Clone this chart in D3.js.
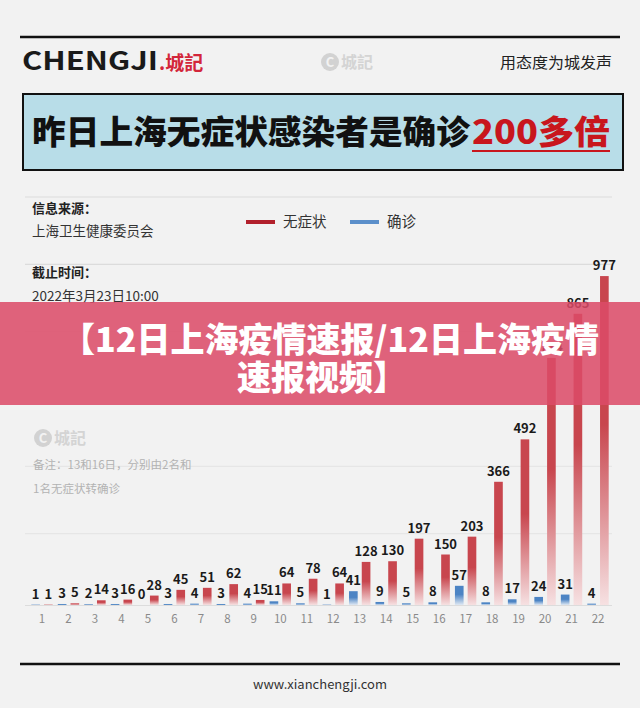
<!DOCTYPE html>
<html>
<head>
<meta charset="utf-8">
<script src="https://cdn.jsdelivr.net/npm/d3@7"></script>
<style>
  body { margin: 0; background: #f2f2f2; }
  text { font-family: "Noto Sans CJK SC", "Noto Sans", sans-serif; }
</style>
</head>
<body>
<script>
// 3月1日 - 3月22日
var days = d3.range(1, 23);
var confirmed = [1, 3, 2, 3, 0, 3, 4, 3, 4, 11, 5, 1, 41, 9, 5, 8, 57, 8, 17, 24, 31, 4];
var asymptomatic = [1, 5, 14, 16, 28, 45, 51, 62, 15, 64, 78, 64, 128, 130, 197, 150, 203, 366, 492, 734, 865, 977];
var yTicks = [200, 400, 600, 800, 1000, 1200];

var width = 640,
    height = 708;

var svg = d3.select("body").append("svg")
    .attr("width", width)
    .attr("height", height);

svg.append("rect")
    .attr("width", width)
    .attr("height", height)
    .attr("fill", "#f2f2f2");

// gradients for bars
var defs = svg.append("defs");
function grad(id, c0, c1) {
  var g = defs.append("linearGradient")
      .attr("id", id)
      .attr("x1", 0).attr("y1", 0).attr("x2", 0).attr("y2", 1);
  g.append("stop").attr("offset", "0%").attr("stop-color", c0);
  g.append("stop").attr("offset", "45%").attr("stop-color", c0);
  g.append("stop").attr("offset", "100%").attr("stop-color", c1);
}
grad("redGrad", "#c8464e", "#f6e1e2");
grad("blueGrad", "#4c84c4", "#dfe8f3");

// ---- header ----
svg.append("line")
    .attr("x1", 20).attr("x2", 620).attr("y1", 37).attr("y2", 37)
    .attr("stroke", "#111").attr("stroke-width", 2.5);

svg.append("text")
    .attr("x", 22).attr("y", 70)
    .attr("font-family", "Lato, sans-serif")
    .attr("font-weight", 700)
    .attr("font-size", 25)
    .attr("fill", "#1a1a1a")
    .attr("textLength", 136)
    .attr("lengthAdjust", "spacingAndGlyphs")
    .text("CHENGJI");
svg.append("text")
    .attr("x", 159).attr("y", 70)
    .attr("font-weight", 700)
    .attr("font-size", 19)
    .attr("fill", "#d3263a")
    .text(".城記");

// watermark
function watermark(cx, cy) {
  svg.append("circle").attr("cx", cx).attr("cy", cy).attr("r", 9).attr("fill", "#d2d2d2");
  svg.append("text").attr("x", cx).attr("y", cy + 4.5)
      .attr("text-anchor", "middle").attr("font-size", 13).attr("font-weight", 700)
      .attr("fill", "#f2f2f2").text("C");
  svg.append("text").attr("x", cx + 11).attr("y", cy + 6)
      .attr("font-size", 16).attr("font-weight", 700)
      .attr("fill", "#d4d4d4").text("城記");
}
watermark(330, 62);

svg.append("text")
    .attr("x", 500).attr("y", 68)
    .attr("font-size", 15)
    .attr("fill", "#222")
    .attr("textLength", 112)
    .attr("lengthAdjust", "spacingAndGlyphs")
    .text("用态度为城发声");

// title box
svg.append("rect")
    .attr("x", 23).attr("y", 94).attr("width", 600).attr("height", 76)
    .attr("fill", "#b8dde8")
    .attr("stroke", "#111").attr("stroke-width", 2);

svg.append("text")
    .attr("x", 32).attr("y", 144)
    .attr("font-size", 33).attr("font-weight", 900)
    .attr("fill", "#111")
    .attr("textLength", 438)
    .attr("lengthAdjust", "spacingAndGlyphs")
    .text("昨日上海无症状感染者是确诊");
svg.append("text")
    .attr("x", 472).attr("y", 144)
    .attr("font-size", 33).attr("font-weight", 900)
    .attr("fill", "#c8161d")
    .attr("textLength", 138)
    .attr("lengthAdjust", "spacingAndGlyphs")
    .text("200多倍");
svg.append("line")
    .attr("x1", 472).attr("x2", 610).attr("y1", 151).attr("y2", 151)
    .attr("stroke", "#c8161d").attr("stroke-width", 2);

// ---- chart scales ----
var x = d3.scaleBand()
    .domain(days)
    .range([28.76, 611.24]);

var sub = d3.scaleBand()
    .domain(["confirmed", "asymptomatic"])
    .range([0, x.bandwidth()])
    .paddingInner(0.32)
    .paddingOuter(0.2);

var y = d3.scaleLinear()
    .domain([0, 1200])
    .range([605, 201]);

// gridlines
svg.append("g")
  .selectAll("line")
  .data(yTicks)
  .enter().append("line")
    .attr("x1", 25).attr("x2", 612)
    .attr("y1", function(d){ return y(d) - 4; })
    .attr("y2", function(d){ return y(d) - 4; })
    .attr("stroke", function(d){ return d >= 1000 ? "#dcdcdc" : "#e6e6e6"; })
    .attr("stroke-width", 1.2);

// info text
svg.append("text").attr("x", 32).attr("y", 213)
    .attr("font-size", 13).attr("font-weight", 700).attr("fill", "#222").text("信息来源：");
svg.append("text").attr("x", 32).attr("y", 236)
    .attr("font-size", 13.5).attr("fill", "#333").text("上海卫生健康委员会");
svg.append("text").attr("x", 32).attr("y", 277)
    .attr("font-size", 13).attr("font-weight", 700).attr("fill", "#222").text("截止时间：");
svg.append("text").attr("x", 32).attr("y", 301)
    .attr("font-size", 13.5).attr("fill", "#333").text("2022年3月23日10:00");

// legend
var legend = [
  { name: "无症状", color: "#b2202c", x: 246 },
  { name: "确诊", color: "#5b8fca", x: 350 }
];
var lg = svg.append("g").selectAll("g")
  .data(legend)
  .enter().append("g")
    .attr("transform", function(d){ return "translate(" + d.x + ",222)"; });
lg.append("line")
    .attr("x1", 0).attr("x2", 29)
    .attr("stroke", function(d){ return d.color; })
    .attr("stroke-width", 4);
lg.append("text")
    .attr("x", 37).attr("y", 5)
    .attr("font-size", 14.5).attr("fill", "#333")
    .text(function(d){ return d.name; });

// note
watermark(43, 438);
svg.append("text").attr("x", 33).attr("y", 469)
    .attr("font-size", 11.5).attr("fill", "#b3b3b3").text("备注：13和16日，分别由2名和");
svg.append("text").attr("x", 33).attr("y", 493)
    .attr("font-size", 11.5).attr("fill", "#b3b3b3").text("1名无症状转确诊");

// baseline
svg.append("line")
    .attr("x1", 25).attr("x2", 612)
    .attr("y1", y(0) + 0.5).attr("y2", y(0) + 0.5)
    .attr("stroke", "#dcdcdc").attr("stroke-width", 1);

// bars
var rows = days.map(function(d, i){
  return [
    { day: d, key: "confirmed", v: confirmed[i] },
    { day: d, key: "asymptomatic", v: asymptomatic[i] }
  ];
});
var flat = [].concat.apply([], rows);

var bars = svg.append("g");
bars.selectAll("rect")
  .data(flat)
  .enter().append("rect")
    .attr("x", function(d){ return x(d.day) + sub(d.key); })
    .attr("width", sub.bandwidth())
    .attr("y", function(d){ return y(d.v); })
    .attr("height", function(d){ return y(0) - y(d.v); })
    .attr("fill", function(d){ return d.key == "confirmed" ? "url(#blueGrad)" : "url(#redGrad)"; });

bars.selectAll("text")
  .data(flat)
  .enter().append("text")
    .attr("x", function(d){ return x(d.day) + sub(d.key) + sub.bandwidth() / 2; })
    .attr("y", function(d){ return y(d.v) - 6; })
    .attr("text-anchor", "middle")
    .attr("font-family", "Lato, sans-serif")
    .attr("font-weight", 700)
    .attr("font-size", 13)
    .attr("fill", "#1a1a1a")
    .text(function(d){ return d.v; });

// x axis
var xAxis = svg.append("g")
    .attr("transform", "translate(0," + (y(0) + 4) + ")")
    .call(d3.axisBottom(x).tickSize(0).tickPadding(6));
xAxis.select(".domain").remove();
xAxis.selectAll("text")
    .attr("font-family", "Lato, sans-serif")
    .attr("font-size", 11.5)
    .attr("fill", "#8a8a8a");

// banner overlay
svg.append("rect")
    .attr("x", 0).attr("y", 302).attr("width", width).attr("height", 103)
    .attr("fill", "#dc4a68").attr("opacity", 0.86);
var bannerLines = ["【12日上海疫情速报/12日上海疫情", "速报视频】"];
svg.append("g").selectAll("text")
  .data(bannerLines)
  .enter().append("text")
    .attr("x", function(d, i){ return i == 0 ? 330 : 322; })
    .attr("y", function(d, i){ return 352 + i * 38; })
    .attr("text-anchor", "middle")
    .attr("font-size", 34).attr("font-weight", 900)
    .attr("fill", "#fff")
    .text(function(d){ return d; });

// footer
svg.append("line")
    .attr("x1", 20).attr("x2", 620).attr("y1", 664).attr("y2", 664)
    .attr("stroke", "#111").attr("stroke-width", 2.5);
svg.append("text")
    .attr("x", 320).attr("y", 689)
    .attr("text-anchor", "middle")
    .attr("font-family", "'Open Sans', sans-serif")
    .attr("font-size", 13)
    .attr("fill", "#333")
    .text("www.xianchengji.com");
</script>
</body>
</html>
